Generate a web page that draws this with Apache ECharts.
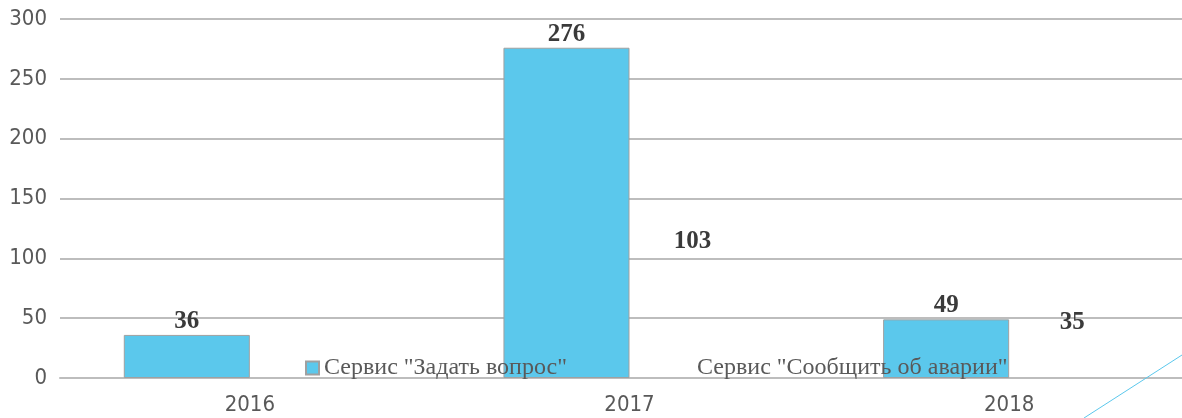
<!DOCTYPE html>
<html><head><meta charset="utf-8">
<script src="https://cdn.jsdelivr.net/npm/echarts@6/dist/echarts.min.js"></script>
<style>html,body{margin:0;padding:0;background:#fff;overflow:hidden;width:1182px;height:418px}#c{width:1199px;height:418px}</style>
</head><body><div id="c"></div>
<script>
const categories = ['2016', '2017', '2018'];
const seriesNames = ['Сервис "Задать вопрос"', 'Сервис "Сообщить об аварии"'];
const askValues = [36, 276, 49];
const accidentValues = [null, 103, 35];
const yTicks = [0, 50, 100, 150, 200, 250, 300];

const chart = echarts.init(document.getElementById('c'), null, {renderer: 'canvas'});
const labelStyle = {show: true, position: 'top', distance: 1, fontFamily: '"Liberation Serif", serif', fontWeight: 'bold', fontSize: 25, color: '#3a3a3a'};
const legendText = {fontFamily: '"Liberation Serif", serif', fontSize: 24, color: '#595959'};
const axisFont = '"DejaVu Sans Condensed", "Liberation Sans", sans-serif';
chart.setOption({
  animation: false,
  backgroundColor: '#fff',
  grid: {left: 60, right: 0, top: 19, bottom: 40, containLabel: false},
  legend: [
    {data: [seriesNames[0]], left: 300, top: 351, itemWidth: 13, itemHeight: 13, icon: 'rect', itemGap: 0, textStyle: legendText},
    {data: [seriesNames[1]], left: 674, top: 351, itemWidth: 13, itemHeight: 13, icon: 'rect', itemGap: 0, textStyle: legendText}
  ],
  xAxis: {type: 'category', data: categories,
    axisLine: {lineStyle: {color: '#bdbdbd', width: 2}}, axisTick: {show: false},
    axisLabel: {fontFamily: axisFont, fontSize: 22, color: '#595959', margin: 16}},
  yAxis: {type: 'value', min: yTicks[0], max: yTicks[yTicks.length-1], interval: 50,
    axisLine: {show: false}, axisTick: {show: false},
    splitLine: {lineStyle: {color: '#bdbdbd', width: 2}},
    axisLabel: {fontFamily: axisFont, fontSize: 22, color: '#595959', margin: 13}},
  series: [
    {name: seriesNames[0], type: 'bar', data: askValues, barGap: '0%', barCategoryGap: '33.6%',
     itemStyle: {color: '#5bc8ec', borderColor: '#a0a0a0', borderWidth: 1}, label: labelStyle},
    {name: seriesNames[1], type: 'bar', data: accidentValues,
     itemStyle: {color: 'rgba(255,255,255,0)', borderWidth: 0}, label: labelStyle}
  ],
  graphic: [{type: 'line', shape: {x1: 1182, y1: 355, x2: 1084, y2: 418}, style: {stroke: '#5bc8ec', lineWidth: 1}, z: 100}]
});
</script></body></html>
